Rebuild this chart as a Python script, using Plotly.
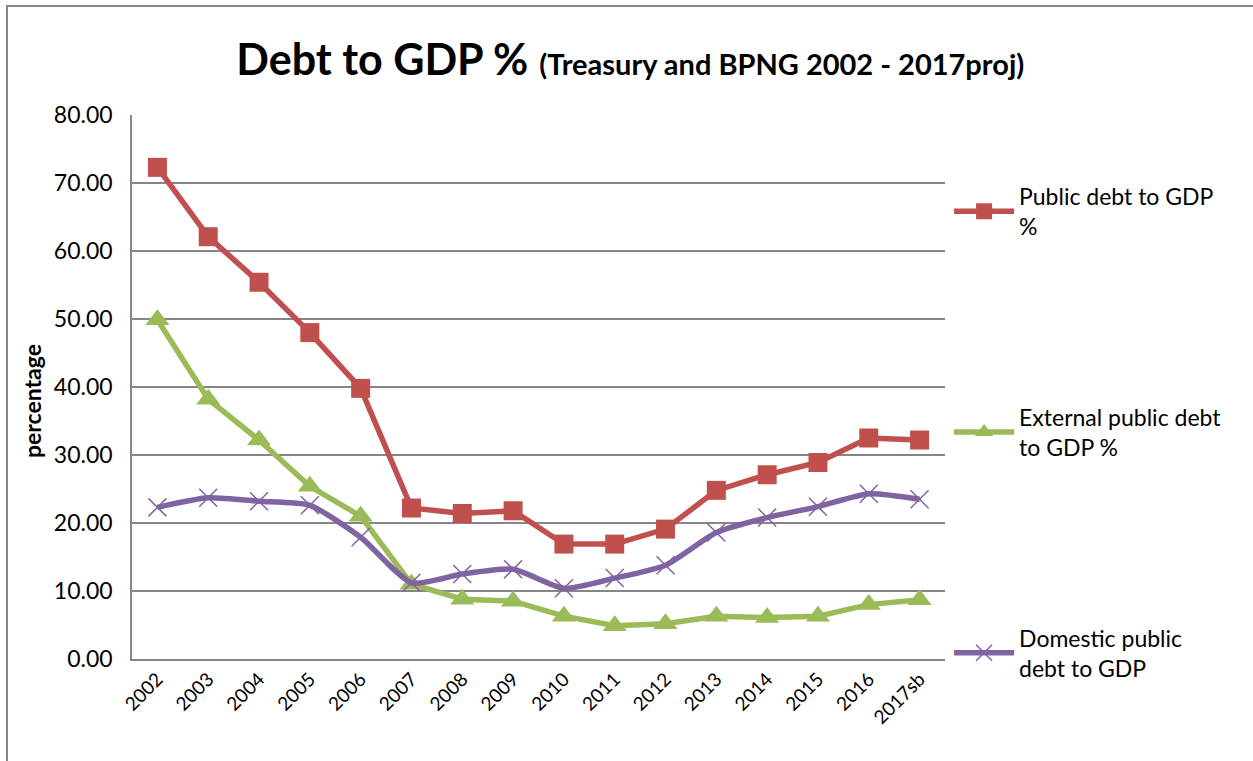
import plotly.graph_objects as go

years = ["2002", "2003", "2004", "2005", "2006", "2007", "2008", "2009", "2010",
         "2011", "2012", "2013", "2014", "2015", "2016", "2017sb"]
public_debt = [72.3, 62.1, 55.4, 48.0, 39.8, 22.2, 21.4, 21.8, 16.9, 16.9, 19.1, 24.8, 27.1, 28.9, 32.5, 32.2]
external_debt = [49.9, 38.2, 32.2, 25.4, 21.0, 11.0, 8.8, 8.5, 6.3, 4.9, 5.2, 6.3, 6.1, 6.3, 8.0, 8.7]
domestic_debt = [22.3, 23.7, 23.2, 22.6, 17.9, 11.2, 12.5, 13.2, 10.4, 11.9, 13.8, 18.6, 20.8, 22.4, 24.3, 23.5]

names = ["Public debt to GDP<br>%", "External public debt<br>to GDP %", "Domestic public<br>debt to GDP"]
font_fam = "Lato, 'Open Sans', sans-serif"

fig = go.Figure()
fig.add_trace(go.Scatter(x=years, y=public_debt, name=names[0], mode="lines+markers",
                         line=dict(color="#C0504D", width=5.5),
                         marker=dict(symbol="square", size=19, color="#C0504D"),
                         legendgroup="a"))
fig.add_trace(go.Scatter(x=years, y=external_debt, name=names[1], mode="lines+markers",
                         line=dict(color="#9BBB59", width=5.5),
                         marker=dict(symbol="triangle-up", size=21, color="#9BBB59"),
                         legendgroup="b"))
fig.add_trace(go.Scatter(x=years, y=domestic_debt, name=names[2], mode="lines+markers",
                         line=dict(color="#8064A2", width=5.5, shape="spline", smoothing=0.6),
                         marker=dict(symbol="x-thin-open", size=18, color="#8064A2",
                                     line=dict(color="#8064A2", width=1.5)),
                         legendgroup="c"))

fig.update_layout(
    width=1253, height=761,
    paper_bgcolor="white", plot_bgcolor="white",
    margin=dict(l=132, r=308, t=115, b=102, autoexpand=False),
    font=dict(family=font_fam, color="black"),
    title=dict(
        text="<b>Debt to GDP %</b> <b><span style='font-size:29px'>(Treasury and BPNG 2002 - 2017proj)</span></b>",
        x=0.503, xanchor="center", y=0.921, yanchor="middle",
        font=dict(size=43, family=font_fam)),
    showlegend=True,
    legend=dict(x=1.005, xanchor="left", y=0.89, yanchor="top",
                font=dict(size=23, family=font_fam),
                traceorder="grouped", tracegroupgap=158,
                itemwidth=60, bgcolor="rgba(0,0,0,0)"),
    xaxis=dict(type="category", tickangle=-45, tickfont=dict(size=19),
               showline=True, linecolor="#868686", linewidth=1.5,
               showgrid=False, ticks="", range=[-0.5, 15.5]),
    yaxis=dict(range=[0, 80], dtick=10, tickformat=".2f", tickfont=dict(size=23),
               showgrid=True, gridcolor="#868686", gridwidth=1.5,
               showline=True, linecolor="#868686", linewidth=1.5,
               ticks="", zeroline=False, ticklabelstandoff=13),
    annotations=[dict(text="<b>percentage</b>", xref="paper", yref="paper",
                      x=(32 - 132) / 813, y=(659 - 401) / 544,
                      xanchor="center", yanchor="middle", textangle=-90,
                      showarrow=False, font=dict(size=23, family=font_fam))],
)

fig.add_shape(type="rect", xref="paper", yref="paper",
              x0=(7 - 132) / 813, x1=(1400 - 132) / 813,
              y0=-(900 - 659) / 544, y1=(659 - 6) / 544,
              line=dict(color="#868686", width=2), layer="below")

fig.write_html("out.html", post_script="document.body.style.margin='0';",
               config={"displayModeBar": False})
